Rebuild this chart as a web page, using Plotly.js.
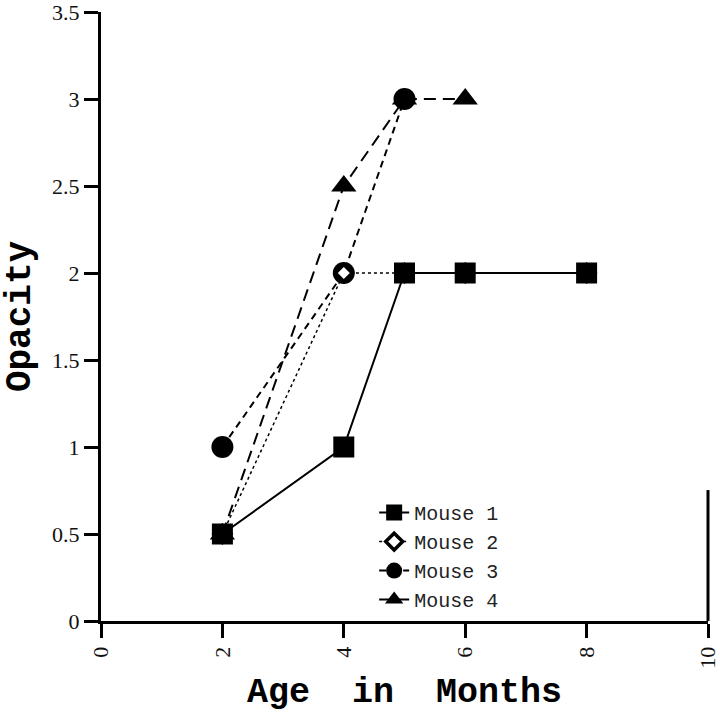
<!DOCTYPE html>
<html><head><meta charset="utf-8">
<script src="https://cdn.plot.ly/plotly-3.0.1.min.js"></script>
<style>body{margin:0;background:#fff}#chart{width:720px;height:713px}</style>
</head><body><div id="chart"></div>
<script>
const seriesNames = ["Mouse 1", "Mouse 2", "Mouse 3", "Mouse 4"];
const mouse1X = [2, 4, 5, 6, 8];
const mouse1Y = [0.5, 1, 2, 2, 2];
const mouse2X = [2, 4, 5, 6, 8];
const mouse2Y = [0.5, 2, 2, 2, 2];
const mouse3X = [2, 4, 5];
const mouse3Y = [1, 2, 3];
const mouse4X = [2, 4, 5, 6];
const mouse4Y = [0.5, 2.5, 3, 3];
const xTicks = [0, 2, 4, 6, 8, 10];
const yTicks = [0, 0.5, 1, 1.5, 2, 2.5, 3, 3.5];

const traces = [
  {x: mouse4X, y: mouse4Y, name: seriesNames[3], legendrank: 4, mode: 'lines+markers',
   line: {color: '#000', width: 2, dash: '12px,7px'},
   marker: {symbol: 'triangle-up', size: 22, color: '#000'}},
  {x: mouse3X, y: mouse3Y, name: seriesNames[2], legendrank: 3, mode: 'lines+markers',
   line: {color: '#000', width: 2, dash: '7px,5px'},
   marker: {symbol: 'circle', size: 22, color: '#000'}},
  {x: mouse2X, y: mouse2Y, name: seriesNames[1], legendrank: 2, mode: 'lines+markers',
   line: {color: '#000', width: 1.5, dash: 'dot'},
   marker: {symbol: 'diamond', size: 13, color: '#fff', line: {color: '#000', width: 3.5}}},
  {x: mouse1X, y: mouse1Y, name: seriesNames[0], legendrank: 1, mode: 'lines+markers',
   line: {color: '#000', width: 2},
   marker: {symbol: 'square', size: 21, color: '#000'}}
];

const layout = {
  width: 720, height: 713,
  margin: {l: 101, r: 12, t: 12, b: 92},
  paper_bgcolor: '#fff', plot_bgcolor: '#fff',
  showlegend: true,
  legend: {x: 0.45, y: 0.21, xanchor: 'left', yanchor: 'top', traceorder: 'normal',
           font: {family: 'Liberation Mono, Courier New, monospace', size: 20, color: '#222'},
           bgcolor: 'rgba(0,0,0,0)', tracegroupgap: 0},
  xaxis: {range: [0, 10], tickvals: xTicks, ticktext: xTicks.map(String), tickangle: -90,
          ticklabeloverflow: 'allow',
          showgrid: false, zeroline: false, showline: true, linecolor: '#000', linewidth: 3,
          ticks: 'outside', ticklen: 14, tickwidth: 3, tickcolor: '#000',
          tickfont: {family: 'Liberation Serif, Times New Roman, serif', size: 22, color: '#111'},
          title: {text: 'Age\u00a0\u00a0in\u00a0\u00a0Months', standoff: 12,
                  font: {family: 'Liberation Mono, Courier New, monospace', size: 35, color: '#000', weight: 'bold'}}},
  yaxis: {range: [0, 3.5], tickvals: yTicks, ticktext: yTicks.map(v => String(v)),
          ticklabeloverflow: 'allow',
          showgrid: false, zeroline: false, showline: true, linecolor: '#000', linewidth: 3,
          ticks: 'outside', ticklen: 14, tickwidth: 3, tickcolor: '#000',
          tickfont: {family: 'Liberation Serif, Times New Roman, serif', size: 22, color: '#111'},
          title: {text: 'Opacity', standoff: 12,
                  font: {family: 'Liberation Mono, Courier New, monospace', size: 36, color: '#000', weight: 'bold'}}},
  shapes: [
    {type: 'line', xref: 'paper', yref: 'paper', x0: 1, x1: 1, y0: 0, y1: 0.215,
     line: {color: '#000', width: 3}}
  ]
};

Plotly.newPlot('chart', traces, layout, {displayModeBar: false, staticPlot: true});
</script>
</body></html>
